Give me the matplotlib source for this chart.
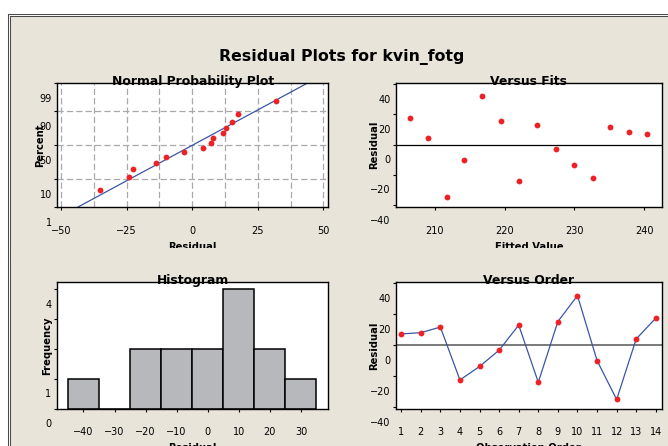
import numpy as np
import matplotlib
matplotlib.use("Agg")
import matplotlib.pyplot as plt
from matplotlib.transforms import ScaledTranslation
from matplotlib.lines import Line2D
from matplotlib.patches import Rectangle
from statistics import NormalDist

# residuals in observation order, and the fitted values that go with them
observation = [1, 2, 3, 4, 5, 6, 7, 8, 9, 10, 11, 12, 13, 14]
residuals = [7.3, 8.1, 11.7, -22.4, -13.7, -3.2, 13.0, -23.9, 15.3, 32.0, -9.9, -35.0, 4.1, 17.5]
fitted = [240.4, 237.8, 235.1, 232.6, 230.0, 227.3, 224.7, 222.1, 219.5, 216.8, 214.2, 211.7, 209.0, 206.4]

# histogram as drawn
hist_centers = [-40, -30, -20, -10, 0, 10, 20, 30]
hist_counts = [1, 0, 2, 2, 2, 4, 2, 1]
freq_labels = ["0", "1", "", "", "4"]  # 2 and 3 sit under the axis title

pct_ticks = [1, 10, 50, 90, 99]

BEIGE = "#e8e4da"
RED = "#ec2227"
BLUE = "#3a55a8"
GRAY = "#b7b8bc"

W, H = 668, 446
plt.rcParams["font.family"] = "DejaVu Sans"
plt.rcParams["font.size"] = 7
fig = plt.figure(figsize=(W / 100, H / 100), dpi=100, facecolor="white")


def box(left, top, right, bottom):
    return [left / W, 1 - bottom / H, (right - left) / W, (bottom - top) / H]


def fx(px):
    return px / W


def fy(px):
    return 1 - px / H


# window background and double border
fig.patches.append(Rectangle((fx(9.5), 0), 1, fy(15.5), transform=fig.transFigure,
                             facecolor=BEIGE, edgecolor="none", zorder=-10))
for xo, yo in ((7.5, 13.5), (9.5, 15.5)):
    fig.add_artist(Line2D([fx(xo), 1], [fy(yo), fy(yo)], transform=fig.transFigure,
                          color="#4a4a4a", lw=0.75))
    fig.add_artist(Line2D([fx(xo), fx(xo)], [fy(yo), 0], transform=fig.transFigure,
                          color="#4a4a4a", lw=0.75))

fig.text(fx(342), fy(57), "Residual Plots for kvin_fotg", ha="center", va="center",
         fontsize=11.3, fontweight="bold")

ax_npp = fig.add_axes(box(57, 83.3, 328.3, 207.3))
ax_fit = fig.add_axes(box(395.7, 83.3, 662.3, 207.3))
ax_hist = fig.add_axes(box(56.7, 282.3, 328.3, 408.8))
ax_ord = fig.add_axes(box(395.7, 282.3, 661.7, 408.8))


def style(ax, title, xlabel, ylabel, ylab_x, xlab_y):
    for s in ax.spines.values():
        s.set_linewidth(1.0)
    ax.tick_params(direction="out", length=2.3, width=0.8, pad=1.5, labelsize=7)
    ax.text(0.5, 1 - 2 / (ax.bbox.height), title, transform=ax.transAxes, ha="center",
            va="baseline", fontsize=8.9, fontweight="bold", zorder=10)
    ax.set_xlabel(xlabel, fontsize=7.2, fontweight="bold")
    ax.set_ylabel(ylabel, fontsize=7.2, fontweight="bold")
    ax.xaxis.set_label_coords(0.5, xlab_y)
    ax.yaxis.set_label_coords(ylab_x, 0.5)
    # minitab draws its tick labels shifted down by about half a step
    dx = ScaledTranslation(0, -0.13, fig.dpi_scale_trans)
    dy = ScaledTranslation(0, -0.145, fig.dpi_scale_trans)
    for lab in ax.get_xticklabels():
        lab.set_transform(lab.get_transform() + dx)
    for lab in ax.get_yticklabels():
        lab.set_transform(lab.get_transform() + dy)


# normal probability plot
nd = NormalDist()
n = len(residuals)
sorted_res = np.sort(residuals)
z_pts = [nd.inv_cdf((i - 0.3) / (n + 0.4)) for i in range(1, n + 1)]
mu, sd = np.mean(residuals), np.std(residuals, ddof=1)
z_line = np.linspace(-3, 3, 60)
for gx in [-50, -37.5, -25, -12.5, 0, 12.5, 25, 37.5, 50]:
    ax_npp.axvline(gx, color="#a9a9a9", lw=0.9, ls=(0, (5, 2.5)), zorder=0)
for p in [10, 50, 90]:
    ax_npp.axhline(nd.inv_cdf(p / 100), color="#a9a9a9", lw=0.9, ls=(0, (5, 2.5)), zorder=0)
ax_npp.plot(mu + sd * z_line, z_line, color=BLUE, lw=0.9)
ax_npp.plot(sorted_res, z_pts, "o", color=RED, ms=4.2, mec="none")
ax_npp.set_xlim(-51.5, 51.9)
ax_npp.set_ylim(nd.inv_cdf(0.01), nd.inv_cdf(0.99))
ax_npp.set_xticks([-50, -25, 0, 25, 50])
ax_npp.set_yticks([nd.inv_cdf(p / 100) for p in pct_ticks], [str(p) for p in pct_ticks])
style(ax_npp, "Normal Probability Plot", "Residual", "Percent", -0.045, -0.28)

# versus fits
ax_fit.axhline(0, color="black", lw=0.9)
ax_fit.plot(fitted, residuals, "o", color=RED, ms=4.2, mec="none")
ax_fit.set_xlim(204.4, 242.6)
ax_fit.set_ylim(-41.5, 40.5)
ax_fit.set_xticks([210, 220, 230, 240])
ax_fit.set_yticks([-40, -20, 0, 20, 40])
style(ax_fit, "Versus Fits", "Fitted Value", "Residual", -0.064, -0.28)

# histogram
ax_hist.bar(hist_centers, hist_counts, width=10, color=GRAY, edgecolor="black", lw=1.1)
ax_hist.set_xlim(-48.6, 38.8)
ax_hist.set_ylim(0, 4.24)
ax_hist.set_xticks(hist_centers)
ax_hist.set_yticks([0, 1, 2, 3, 4], freq_labels)
style(ax_hist, "Histogram", "Residual", "Frequency", -0.016, -0.272)

# versus order
ax_ord.axhline(0, color="#7a7a7a", lw=1.4)
ax_ord.plot(observation, residuals, color=BLUE, lw=0.9)
ax_ord.plot(observation, residuals, "o", color=RED, ms=4.2, mec="none")
ax_ord.set_xlim(0.72, 14.3)
ax_ord.set_ylim(-41, 40.6)
ax_ord.set_xticks(observation)
ax_ord.set_yticks([-40, -20, 0, 20, 40])
style(ax_ord, "Versus Order", "Observation Order", "Residual", -0.064, -0.272)

# the top row's x labels are cut off at the bottom of their panels
fig.patches.append(Rectangle((fx(10.5), fy(263)), 1, fy(248) - fy(263), transform=fig.transFigure,
                             facecolor=BEIGE, edgecolor="none", zorder=5))

fig.savefig("out.png", dpi=100, facecolor=fig.get_facecolor())
